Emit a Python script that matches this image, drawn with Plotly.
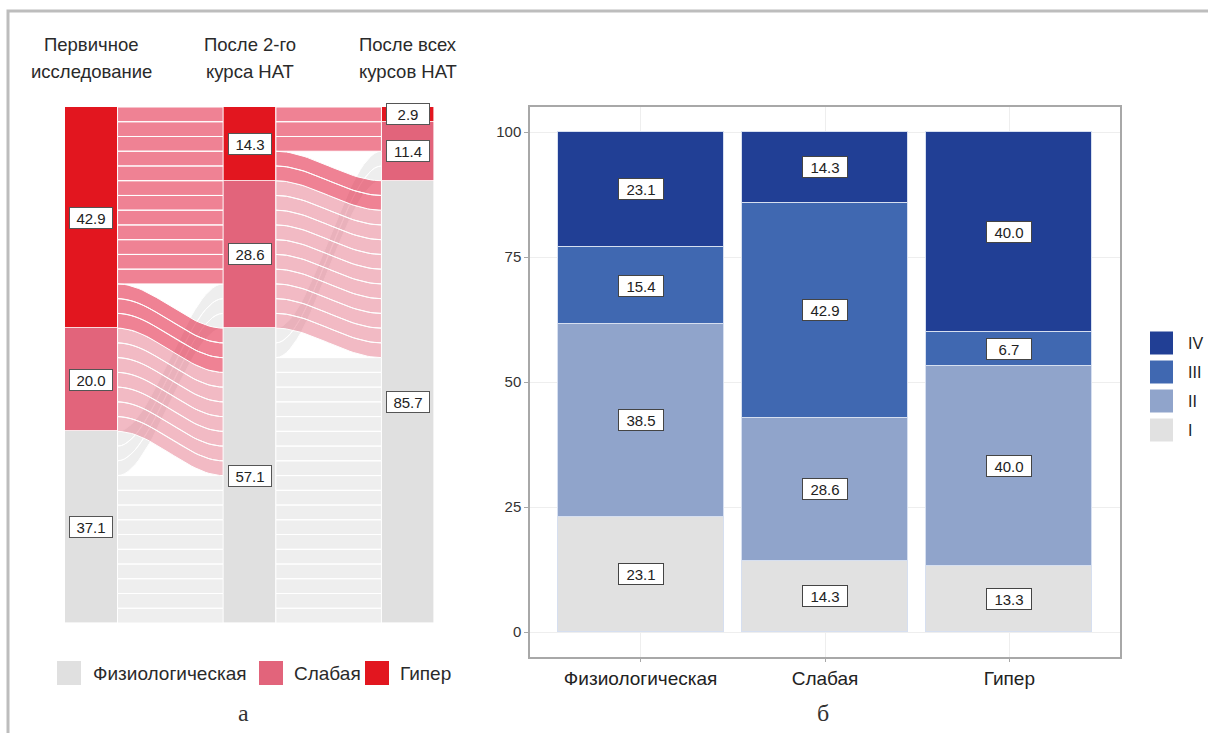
import plotly.graph_objects as go

W, H = 1208, 733
FONT = "Liberation Sans, Arial, sans-serif"

# ---------------- panel "а": alluvial diagram (35 patients) ----------------
stage_titles = [("Первичное", "исследование"),
                ("После 2-го", "курса НАТ"),
                ("После всех", "курсов НАТ")]
levels = ["Гипер", "Слабая", "Физиологическая"]      # stacking order, top to bottom
stage1 = [15, 7, 13]
stage2 = [5, 10, 20]
stage3 = [1, 4, 30]
# transitions between neighbouring stages: (from, to, patients)
flows_12 = [("Гипер", "Гипер", 5), ("Гипер", "Слабая", 7), ("Гипер", "Физиологическая", 3),
            ("Слабая", "Физиологическая", 7),
            ("Физиологическая", "Слабая", 3), ("Физиологическая", "Физиологическая", 10)]
flows_23 = [("Гипер", "Гипер", 1), ("Гипер", "Слабая", 2), ("Гипер", "Физиологическая", 2),
            ("Слабая", "Физиологическая", 10),
            ("Физиологическая", "Слабая", 2), ("Физиологическая", "Физиологическая", 18)]

stratum_colors = {"Гипер": "#E2161F", "Слабая": "#E2647B", "Физиологическая": "#E0E0E0"}
flow_colors = {"Гипер": "rgba(228,40,70,0.58)",
               "Слабая": "rgba(226,103,125,0.45)",
               "Физиологическая": "rgba(222,222,222,0.5)"}

# ---------------- panel "б": stacked percentage bars ----------------
groups = ["Физиологическая", "Слабая", "Гипер"]
grades = ["I", "II", "III", "IV"]
grade_I = [23.1, 14.3, 13.3]
grade_II = [38.5, 28.6, 40.0]
grade_III = [15.4, 42.9, 6.7]
grade_IV = [23.1, 14.3, 40.0]
grade_colors = ["#E1E1E1", "#90A4CB", "#4068B1", "#213F95"]


def px(x):
    return x / W


def py(y):
    return 1 - y / H


fig = go.Figure()

stages = [stage1, stage2, stage3]
total = sum(stage1)
STRATUM_W = 1 / 3


def tops(counts):
    out, acc = {}, 0
    for lvl, n in zip(levels, counts):
        out[lvl] = acc
        acc += n
    return out


def smooth(t):
    return t * t * (3 - 2 * t)


def add_flows(transitions, counts_a, counts_b, xa):
    ta, tb = tops(counts_a), tops(counts_b)
    left, right = {}, {}
    cur = dict(ta)
    for s in levels:
        for d in levels:
            for (fs, fd, n) in transitions:
                if fs == s and fd == d:
                    left[(fs, fd)] = cur[s]
                    cur[s] += n
    cur = dict(tb)
    for d in levels:
        for s in levels:
            for (fs, fd, n) in transitions:
                if fs == s and fd == d:
                    right[(fs, fd)] = cur[d]
                    cur[d] += n
    x0 = xa + STRATUM_W / 2
    x1 = xa + 1 - STRATUM_W / 2
    steps = 30
    ts = [i / steps for i in range(steps + 1)]
    for src in ["Физиологическая", "Слабая", "Гипер"]:
        xs, ys = [], []
        for (fs, fd, n) in transitions:
            if fs != src:
                continue
            for k in range(n):
                ya = left[(fs, fd)] + k
                yb = right[(fs, fd)] + k
                top = [(x0 + (x1 - x0) * t, ya + (yb - ya) * smooth(t)) for t in ts]
                bot = [(x0 + (x1 - x0) * t, ya + 1 + (yb - ya) * smooth(t)) for t in ts][::-1]
                poly = top + bot + [top[0]]
                xs += [p[0] for p in poly] + [None]
                ys += [p[1] for p in poly] + [None]
        if xs:
            fig.add_trace(go.Scatter(x=xs, y=ys, xaxis="x", yaxis="y", mode="lines",
                                     fill="toself", fillcolor=flow_colors[src],
                                     line=dict(color="white", width=1),
                                     hoverinfo="skip", showlegend=False))


add_flows(flows_12, stage1, stage2, 1)
add_flows(flows_23, stage2, stage3, 2)

# strata
for i, lvl in enumerate(levels):
    fig.add_trace(go.Bar(x=[1, 2, 3], y=[s[i] for s in stages], width=STRATUM_W,
                         xaxis="x", yaxis="y", marker=dict(color=stratum_colors[lvl],
                                                           line=dict(color="white", width=0.6)),
                         name=lvl, showlegend=False, hoverinfo="skip"))

annotations = []
# stratum percentage labels
for si, counts in enumerate(stages):
    acc = 0
    for n in counts:
        annotations.append(dict(x=si + 1, y=acc + n / 2, xref="x", yref="y",
                                text=f"{100 * n / total:.1f}", showarrow=False,
                                font=dict(family=FONT, size=15, color="#222"),
                                bgcolor="white", bordercolor="#555", borderwidth=1,
                                borderpad=2, width=38, height=16))
        acc += n

# stage titles
for si, (l1, l2) in enumerate(stage_titles):
    for line, yy in ((l1, 45), (l2, 72)):
        annotations.append(dict(x=si + 1, y=py(yy), xref="x", yref="paper", text=line,
                                showarrow=False, yanchor="middle",
                                font=dict(family=FONT, size=18.5, color="#2a2a2a")))

# ---------------- panel b bars ----------------
series = [grade_I, grade_II, grade_III, grade_IV]
for g, vals, col in zip(grades, series, grade_colors):
    fig.add_trace(go.Bar(x=groups, y=vals, width=0.9, xaxis="x2", yaxis="y2",
                         marker=dict(color=col, line=dict(color="#D6DFF0", width=1)),
                         name=g, showlegend=False, hoverinfo="skip"))

for gi, grp in enumerate(groups):
    acc = 0
    for vals in series:
        v = vals[gi]
        annotations.append(dict(x=grp, y=acc + v / 2, xref="x2", yref="y2",
                                text=f"{v:.1f}", showarrow=False,
                                font=dict(family=FONT, size=15, color="#222"),
                                bgcolor="white", bordercolor="#444", borderwidth=1,
                                borderpad=2, width=40, height=16))
        acc += v

shapes = []
# legend of panel a
left_legend = [("Физиологическая", 57, 91), ("Слабая", 259, 292), ("Гипер", 365, 398)]
for lvl, sx, tx in left_legend:
    shapes.append(dict(type="rect", xref="paper", yref="paper",
                       x0=px(sx), x1=px(sx + 24), y0=py(685), y1=py(661),
                       fillcolor=stratum_colors[lvl], line=dict(width=0)))
    annotations.append(dict(x=px(tx), y=py(673), xref="paper", yref="paper", text=lvl,
                            showarrow=False, xanchor="left", yanchor="middle",
                            font=dict(family=FONT, size=19, color="#2a2a2a")))

# legend of panel b (IV on top)
for k, (g, col) in enumerate(zip(grades[::-1], grade_colors[::-1])):
    cy = 343 + 29 * k
    shapes.append(dict(type="rect", xref="paper", yref="paper",
                       x0=px(1150), x1=px(1173), y0=py(cy + 11.5), y1=py(cy - 11.5),
                       fillcolor=col, line=dict(width=0)))
    annotations.append(dict(x=px(1186), y=py(cy), xref="paper", yref="paper", text=g,
                            showarrow=False, xanchor="left", yanchor="middle",
                            font=dict(family=FONT, size=16, color="#222")))

# panel letters
for letter, lx in (("а", 243), ("б", 823)):
    annotations.append(dict(x=px(lx), y=py(713), xref="paper", yref="paper", text=letter,
                            showarrow=False, xanchor="center", yanchor="middle",
                            font=dict(family="Liberation Serif, serif", size=24, color="#333")))

# outer frame (top and left edges)
shapes.append(dict(type="path", xref="paper", yref="paper",
                   path=f"M {px(8)},{py(733)} L {px(8)},{py(11)} L {px(1208)},{py(11)}",
                   line=dict(color="#BDBDBD", width=3)))

fig.update_layout(
    width=W, height=H, margin=dict(l=0, r=0, t=0, b=0),
    paper_bgcolor="white", plot_bgcolor="white",
    barmode="stack", bargap=0, showlegend=False,
    font=dict(family=FONT, color="#333"),
    xaxis=dict(domain=[px(12), px(487)], range=[0.5, 3.5], visible=False, fixedrange=True),
    yaxis=dict(domain=[py(623), py(107)], range=[35, 0], visible=False, fixedrange=True),
    xaxis2=dict(domain=[px(530), px(1120)], range=[-0.6, 2.6], anchor="y2",
                showline=True, mirror=True, linecolor="#A8A8A8", linewidth=1.5,
                ticks="outside", ticklen=3, tickcolor="#A8A8A8", showgrid=True,
                gridcolor="#EEEEEE", tickfont=dict(family=FONT, size=19, color="#222"),
                zeroline=False),
    yaxis2=dict(domain=[py(657), py(107)], range=[-5, 105], anchor="x2",
                tickvals=[0, 25, 50, 75, 100], showline=True, mirror=True,
                linecolor="#A8A8A8", linewidth=1.5, ticks="outside", ticklen=4,
                tickcolor="#A8A8A8", gridcolor="#EEEEEE", zeroline=False,
                tickfont=dict(family=FONT, size=15, color="#333")),
    annotations=annotations, shapes=shapes,
)

fig.write_html("out.html", config={"displayModeBar": False})
